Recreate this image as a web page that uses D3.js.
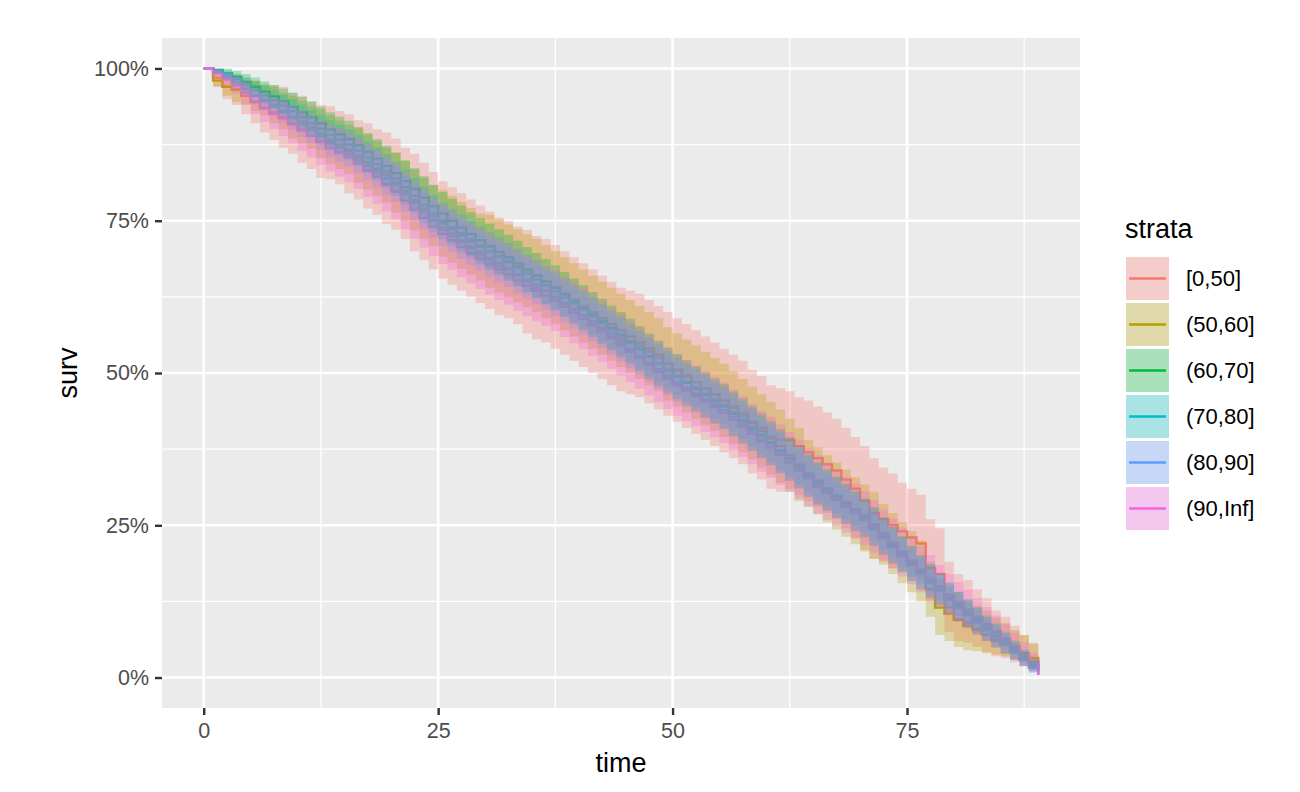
<!DOCTYPE html>
<html><head><meta charset="utf-8">
<script src="https://cdn.jsdelivr.net/npm/d3@7"></script>
<style>body{margin:0;background:#fff;} text{font-family:"Liberation Sans",Arial,sans-serif;}</style>
</head><body><svg id="chart" width="1300" height="792"></svg>
<script>
// ---------- data ----------
const times = [
 0,1,2,3,4,5,6,7,8,9,
 10,11,12,13,14,15,16,17,18,19,
 20,21,22,23,24,25,26,27,28,29,
 30,31,32,33,34,35,36,37,38,39,
 40,41,42,43,44,45,46,47,48,49,
 50,51,52,53,54,55,56,57,58,59,
 60,61,62,63,64,65,66,67,68,69,
 70,71,72,73,74,75,76,77,78,79,
 80,81,82,83,84,85,86,87,88,89];

const strata = ["[0,50]","(50,60]","(60,70]","(70,80]","(80,90]","(90,Inf]"];
const colors = ["#F8766D","#B79F00","#00BA38","#00BFC4","#619CFF","#F564E3"];

// survival (percent) per stratum
const surv_0_50 = [
 100,98.5,97,96.5,95.5,94.5,93.5,92.8,92,91,
 90,89,88,87.8,87,86,85,84,83,82,
 81,79.5,78,76.5,75,73.5,72.5,71.5,70.5,69.5,
 68.5,67.5,67,66,65,64,63.5,62.5,61.5,60.5,
 59.5,58.5,57.5,56.5,55.5,55,54.5,53.5,52.5,51.5,
 50.5,49.5,48.5,47.5,46.5,45.5,44.5,43.5,42,41,
 39.5,39,39,38,37,36,35,34,32.5,31,
 29,27,26,25,24,23,22,18,17,11.5,
 9.5,9,8,7,6,5.5,4.5,3.5,2.5,1.5];
const surv_50_60 = [
 100,98,97,96.5,96,95.5,94.8,94,93,92,
 91.2,90.3,89.3,88.3,87.5,86.7,85.7,84.6,83.6,82.5,
 81.3,79.9,78.4,77,75.8,74.6,73.6,72.6,71.6,70.7,
 70,69.2,68.4,67.6,66.8,66,65,64,63,62,
 61,60,59,58,57,56,55,54,53,51.5,
 50.5,49.5,48.5,47.5,46.5,45.5,44.3,43,41.8,40.5,
 39.3,38,36.5,35,33.5,32.3,31,29.8,28.6,27.4,
 26.2,25,23.5,22,20.5,19,17.5,14.5,11.5,10.5,
 9.5,8.5,7.8,7,6.3,5.5,4.8,4,3.2,2.5];
const surv_60_70 = [
 100,99.7,99.2,98.6,97.8,97,96.2,95.4,94.6,93.7,
 92.8,92,91,90,89.2,88.4,87.4,86.3,85.2,84,
 82.8,81.5,80.2,78.8,77.4,76.2,75,73.9,72.8,71.8,
 70.8,69.9,69,68,67,66,65,64,62.9,61.8,
 60.7,59.6,58.5,57.4,56.3,55.2,54,52.8,51.6,50.5,
 49.4,48.4,47.4,46.4,45.4,44.5,43.3,42.1,40.9,39.7,
 38.5,37.2,35.9,34.6,33.2,31.9,30.8,29.6,28.5,27.3,
 26.2,24.8,23.2,21.7,20.2,18.7,17.2,15.8,14.4,13,
 11.7,10.5,9.3,8,6.8,5.6,4.4,3.2,2,1];
const surv_70_80 = [
 100,99.6,99,98.2,97.4,96.5,95.6,94.8,93.9,93,
 92,91,90.1,89.1,88.3,87.5,86.5,85.4,84.3,83.1,
 81.9,80.5,79.1,77.6,76.2,75,73.9,72.9,71.9,70.9,
 70,69.1,68.2,67.3,66.3,65.4,64.4,63.4,62.4,61.4,
 60.4,59.3,58.2,57.1,56,54.9,53.8,52.7,51.6,50.5,
 49.5,48.5,47.6,46.6,45.6,44.7,43.5,42.3,41.1,39.9,
 38.6,37.3,36,34.7,33.4,32.1,31,29.9,28.8,27.7,
 26.6,25.1,23.6,22.1,20.6,19.1,17.7,16.3,14.9,13.5,
 12.1,10.9,9.7,8.5,7.3,6.1,4.9,3.6,2.3,1.2];
const surv_80_90 = [
 100,99.4,98.6,97.7,96.6,95.5,94.6,93.7,92.9,91.9,
 90.9,90,88.9,87.9,87.2,86.4,85.4,84.2,83.2,82,
 80.9,79.4,78,76.6,75.2,73.9,72.9,71.8,70.8,69.9,
 68.9,68,67.2,66.2,65.3,64.4,63.4,62.4,61.4,60.4,
 59.4,58.3,57.2,56.1,55,53.9,52.8,51.7,50.6,49.5,
 48.4,47.5,46.6,45.7,44.8,43.9,42.7,41.6,40.4,39.1,
 37.9,36.6,35.3,34,32.7,31.4,30.3,29.2,28.1,27,
 25.9,24.4,22.9,21.4,19.9,18.4,17,15.6,14.2,12.8,
 11.4,10.2,9,7.8,6.6,5.4,4.2,2.9,1.6,0.4];
const surv_90_inf = [
 100,99.2,98.2,97.2,96,94.6,93.6,92.6,91.8,90.8,
 89.8,88.9,87.9,86.9,86.2,85.4,84.4,83.2,82.2,81,
 79.8,78.3,76.8,75.4,74,72.8,71.8,70.7,69.7,68.8,
 67.9,67,66.2,65.2,64.3,63.5,62.7,61.9,60.9,59.9,
 58.9,57.8,56.8,55.7,54.6,53.5,52.4,51.3,50.2,49.1,
 48,47.1,46.2,45.3,44.4,43.5,42.3,41.2,40,38.8,
 37.8,36.6,35.4,34.2,32.9,31.7,30.6,29.5,28.4,27.3,
 26.2,24.8,23.4,22,20.6,19.2,17.8,16.4,15,13.6,
 12.4,11.2,10,8.8,7.6,6.4,5.2,3.9,2.5,0.5];

// confidence band: distance (percent) from curve to upper limit
const errHi_0_50 = [
 0,1.5,2,2.5,3,3.5,4,4.5,5,5,
 5.5,5.5,6,6,6,6.5,6.5,7,7,7.5,
 7.5,7.5,8,8,8,8,8,8,8,8,
 8,8,8,8,8.5,8.5,8.5,8.5,8.5,8.5,
 8.5,8.5,8.5,8.5,8.5,8.5,8.5,8.5,8.5,8.5,
 8.5,8.5,8.5,8.5,8.5,8.5,8.5,8.5,8.5,8.5,
 8.5,8.5,8,8,8.5,8.5,8.5,8.5,8.5,8.5,
 9,9,8.5,8.5,8,8,8,8,7.5,7.5,
 7.5,7,6.5,6,5,4.5,4,3.5,3,2.5];
const errHi_50_60 = [
 0,1,1.5,2,2,2.5,2.5,3,3,3.5,
 3.5,3.5,4,4,4,4,4.5,4.5,4.5,4.5,
 5,5,5,5,5,5.5,5.5,5.5,5.5,5.5,
 6,6,6,6,6,6,6,6,6,6,
 6,6,6,6,6,6,6,6,6,6,
 6,6,6,6,6,6,6,6,6,6,
 6,6,6,6,5.5,5.5,5.5,5.5,5.5,5.5,
 5.5,5.5,5,5,5,5,5,4.5,4.5,4.5,
 4.5,4,4,4,3.5,3.5,3,3,2.5,2];
const errHi_60_70 = [
 0,0.5,0.8,1,1.3,1.5,1.7,1.9,2.1,2.3,
 2.5,2.6,2.7,2.8,2.9,3,3,3.1,3.2,3.3,
 3.3,3.4,3.4,3.5,3.5,3.5,3.6,3.6,3.6,3.6,
 3.7,3.7,3.7,3.7,3.7,3.7,3.7,3.7,3.7,3.7,
 3.7,3.7,3.7,3.7,3.7,3.7,3.7,3.7,3.7,3.7,
 3.7,3.7,3.7,3.7,3.7,3.7,3.7,3.7,3.7,3.7,
 3.6,3.6,3.6,3.5,3.5,3.5,3.4,3.4,3.3,3.3,
 3.2,3.2,3.1,3,3,2.9,2.8,2.7,2.6,2.5,
 2.4,2.3,2.2,2,1.9,1.7,1.5,1.3,1,0.8];
const errHi_70_80 = [
 0,0.4,0.7,0.9,1.1,1.3,1.5,1.6,1.8,2,
 2.1,2.2,2.3,2.4,2.5,2.5,2.6,2.6,2.7,2.8,
 2.8,2.9,2.9,3,3,3,3,3.1,3.1,3.1,
 3.1,3.1,3.1,3.1,3.1,3.1,3.1,3.1,3.1,3.1,
 3.1,3.1,3.1,3.1,3.1,3.1,3.1,3.1,3.1,3.1,
 3.1,3.1,3.1,3.1,3.1,3.1,3.1,3.1,3.1,3.1,
 3.1,3.1,3,3,3,3,2.9,2.9,2.8,2.8,
 2.7,2.7,2.6,2.6,2.5,2.5,2.4,2.3,2.2,2.1,
 2,1.9,1.8,1.7,1.6,1.4,1.2,1,0.8,0.6];
const errHi_80_90 = [
 0,0.4,0.7,0.9,1.1,1.3,1.5,1.6,1.8,2,
 2.1,2.2,2.3,2.4,2.5,2.5,2.6,2.6,2.7,2.8,
 2.8,2.9,2.9,3,3,3,3,3.1,3.1,3.1,
 3.1,3.1,3.1,3.1,3.1,3.1,3.1,3.1,3.1,3.1,
 3.1,3.1,3.1,3.1,3.1,3.1,3.1,3.1,3.1,3.1,
 3.1,3.1,3.1,3.1,3.1,3.1,3.1,3.1,3.1,3.1,
 3.1,3.1,3,3,3,3,2.9,2.9,2.8,2.8,
 2.7,2.7,2.6,2.6,2.5,2.5,2.4,2.3,2.2,2.1,
 2,1.9,1.8,1.7,1.6,1.4,1.2,1,0.8,0.6];
const errHi_90_inf = [
 0,0.7,1.1,1.4,1.8,2.1,2.4,2.6,2.9,3.1,
 3.3,3.5,3.7,3.8,4,4.1,4.2,4.3,4.4,4.5,
 4.6,4.7,4.7,4.8,4.8,4.9,4.9,5,5,5,
 5,5,5,5,5,5,5,5,5,5,
 5,5,5,5,5,5,5,5,5,5,
 5,5,5,5,5,5,5,5,5,5,
 5,5,4.9,4.9,4.8,4.8,4.7,4.6,4.6,4.5,
 4.4,4.3,4.2,4.1,4,3.9,3.8,3.7,3.5,3.4,
 3.3,3.2,3,2.8,2.6,2.4,2.2,1.9,1.5,1];

// distance (percent) from curve to lower limit (asymmetric near the end for small strata)
const errLo_0_50 = [
 0,1.5,2,2.5,3,3.5,4,4.5,5,5,
 5.5,5.5,6,6,6,6.5,6.5,7,7,7.5,
 7.5,7.5,8,8,8,8,8,8,8,8,
 8,8,8,8,8.5,8.5,8.5,8.5,8.5,8.5,
 8.5,8.5,8.5,8.5,8.5,8.5,8.5,8.5,8.5,8.5,
 8.5,8.5,8.5,8.5,8.5,8.5,8.5,8.5,8.5,8.5,
 8.5,8.5,8,8,8,8,8,8,8,8,
 8,7.5,7,7,6.5,6.5,6,5.5,5,4,
 3.5,3.3,3,2.8,2.5,2.3,2,1.7,1.4,1];
const errLo_50_60 = [
 0,1,1.5,2,2,2.5,2.5,3,3,3.5,
 3.5,3.5,4,4,4,4,4.5,4.5,4.5,4.5,
 5,5,5,5,5,5.5,5.5,5.5,5.5,5.5,
 6,6,6,6,6,6,6,6,6,6,
 6,6,6,6,6,6,6,6,6,6,
 6,6,6,6,6,6,6,6,6,6,
 6,6,6,6,5.5,5.5,5.5,5.5,5.5,5.5,
 5.5,5.5,5,5,5,5,5,4.5,4.5,4.5,
 4.5,4,3.5,3,2.5,2,1.8,1.5,1.2,1];

const xTickValues = [0, 25, 50, 75];
const xMinorValues = [12.5, 37.5, 62.5, 87.5];
const yTickValues = [0, 0.25, 0.5, 0.75, 1];
const yTickLabels = ["0%", "25%", "50%", "75%", "100%"];
const yMinorValues = [0.125, 0.375, 0.625, 0.875];

const survSeries = [surv_0_50, surv_50_60, surv_60_70, surv_70_80, surv_80_90, surv_90_inf];
const errHiSeries = [errHi_0_50, errHi_50_60, errHi_60_70, errHi_70_80, errHi_80_90, errHi_90_inf];
const errLoSeries = [errLo_0_50, errLo_50_60, errHi_60_70, errHi_70_80, errHi_80_90, errHi_90_inf];

// ---------- chart ----------
const svg = d3.select("#chart");
const P = {left: 162, right: 1080, top: 38, bottom: 708};
const x = d3.scaleLinear().domain([-4.45, 93.45]).range([P.left, P.right]);
const y = d3.scaleLinear().domain([-0.05, 1.05]).range([P.bottom, P.top]);

const FILL_ALPHA = 0.3, LW = 2.4;

svg.append("rect").attr("x", P.left).attr("y", P.top)
  .attr("width", P.right - P.left).attr("height", P.bottom - P.top).attr("fill", "#EBEBEB");

const grid = svg.append("g");
grid.selectAll(".xm").data(xMinorValues).join("line")
  .attr("x1", d => x(d)).attr("x2", d => x(d)).attr("y1", P.top).attr("y2", P.bottom)
  .attr("stroke", "#fff").attr("stroke-width", 1.3);
grid.selectAll(".ym").data(yMinorValues).join("line")
  .attr("y1", d => y(d)).attr("y2", d => y(d)).attr("x1", P.left).attr("x2", P.right)
  .attr("stroke", "#fff").attr("stroke-width", 1.3);
grid.selectAll(".xM").data(xTickValues).join("line")
  .attr("x1", d => x(d)).attr("x2", d => x(d)).attr("y1", P.top).attr("y2", P.bottom)
  .attr("stroke", "#fff").attr("stroke-width", 2.6);
grid.selectAll(".yM").data(yTickValues).join("line")
  .attr("y1", d => y(d)).attr("y2", d => y(d)).attr("x1", P.left).attr("x2", P.right)
  .attr("stroke", "#fff").attr("stroke-width", 2.6);

const data = strata.map((s, i) => ({
  name: s, color: colors[i],
  pts: times.map((t, j) => ({
    t, s: survSeries[i][j] / 100,
    lo: Math.max(0, survSeries[i][j] - errLoSeries[i][j]) / 100,
    hi: Math.min(100, survSeries[i][j] + errHiSeries[i][j]) / 100
  }))
}));

const line = d3.line().curve(d3.curveStepAfter).x(d => x(d.t)).y(d => y(d.s));
const area = d3.area().curve(d3.curveStepAfter).x(d => x(d.t)).y0(d => y(d.lo)).y1(d => y(d.hi));

// layer 1: step lines
svg.append("g").selectAll("path").data(data).join("path")
  .attr("d", d => line(d.pts)).attr("fill", "none")
  .attr("stroke", d => d.color).attr("stroke-width", LW);
// layer 2: confidence ribbons
svg.append("g").selectAll("path").data(data).join("path")
  .attr("d", d => area(d.pts)).attr("fill", d => d.color).attr("fill-opacity", FILL_ALPHA)
  .attr("stroke", "none");

// axes
const xAxis = svg.append("g").attr("transform", `translate(0,${P.bottom})`)
  .call(d3.axisBottom(x).tickValues(xTickValues).tickSize(7).tickPadding(8));
const yAxis = svg.append("g").attr("transform", `translate(${P.left},0)`)
  .call(d3.axisLeft(y).tickValues(yTickValues).tickSize(7).tickPadding(6)
    .tickFormat((d, i) => yTickLabels[i]));
[xAxis, yAxis].forEach(a => {
  a.select(".domain").remove();
  a.selectAll(".tick line").attr("stroke", "#333333").attr("stroke-width", 2.4);
  a.selectAll(".tick text").attr("fill", "#4D4D4D").style("font-size", "21.5px")
    .style("font-family", '"Liberation Sans", Arial, sans-serif');
});

svg.append("text").attr("x", (P.left + P.right) / 2).attr("y", 772)
  .attr("text-anchor", "middle").style("font-size", "27px").attr("fill", "#000").text("time");
svg.append("text").attr("transform", `translate(77,${(P.top + P.bottom) / 2}) rotate(-90)`)
  .attr("text-anchor", "middle").style("font-size", "27px").attr("fill", "#000").text("surv");

// legend
const lg = svg.append("g");
lg.append("text").attr("x", 1125).attr("y", 238).style("font-size", "27px").attr("fill", "#000").text("strata");
const keys = lg.selectAll(".key").data(data).join("g")
  .attr("transform", (d, i) => `translate(1126,${257 + i * 46})`);
keys.append("rect").attr("width", 43).attr("height", 43).attr("fill", "#F2F2F2");
keys.append("line").attr("x1", 3).attr("x2", 40).attr("y1", 21.5).attr("y2", 21.5)
  .attr("stroke", d => d.color).attr("stroke-width", LW);
keys.append("rect").attr("width", 43).attr("height", 43)
  .attr("fill", d => d.color).attr("fill-opacity", FILL_ALPHA);
keys.append("text").attr("x", 60).attr("y", 21.5).attr("dy", "0.35em")
  .style("font-size", "22px").attr("fill", "#000").text(d => d.name);
</script></body></html>
